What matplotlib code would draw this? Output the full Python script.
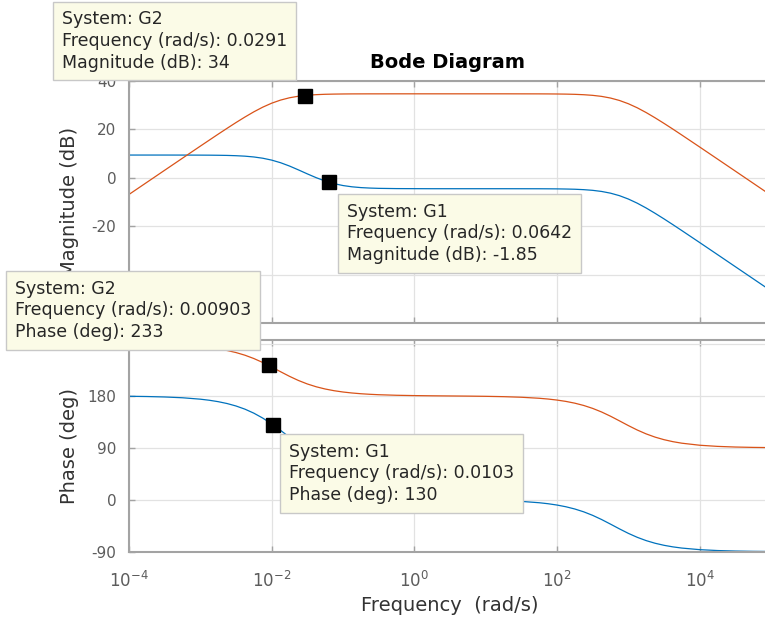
import numpy as np
import matplotlib
matplotlib.use("Agg")
import matplotlib.pyplot as plt
from matplotlib.ticker import FixedLocator, NullLocator, LogFormatterSciNotation, FuncFormatter

# --------------------------------------------
# Frequency response samples (log10 of rad/s)
# finer steps around the corners
# --------------------------------------------

log_w = [-4.0, -3.75, -3.5, -3.25, -3.0,
         -2.875, -2.75, -2.625, -2.5, -2.375, -2.25, -2.125, -2.0, -1.875, -1.75,
         -1.625, -1.5, -1.375, -1.25, -1.125, -1.0, -0.875, -0.75, -0.625, -0.5,
         -0.25, 0.0, 0.25, 0.5, 0.75, 1.0, 1.25, 1.5,
         1.75, 1.875, 2.0, 2.125, 2.25, 2.375, 2.5, 2.625, 2.75,
         2.875, 3.0, 3.125, 3.25, 3.375, 3.5, 3.625, 3.75,
         4.0, 4.25, 4.5, 4.75, 5.0]

g1_mag = [9.40, 9.40, 9.40, 9.39, 9.37,
          9.35, 9.31, 9.25, 9.13, 8.94, 8.61, 8.09, 7.31, 6.23, 4.86,
          3.27, 1.62, 0.04, -1.33, -2.42, -3.20, -3.72, -4.05, -4.24, -4.36,
          -4.46, -4.49, -4.51, -4.51, -4.51, -4.51, -4.51, -4.52,
          -4.53, -4.55, -4.58, -4.64, -4.73, -4.90, -5.18, -5.64, -6.35,
          -7.38, -8.77, -10.49, -12.48, -14.67, -16.98, -19.37, -21.81,
          -26.75, -31.73, -36.73, -41.72, -46.72]

g1_phase = [179.44, 179.01, 178.23, 176.86, 174.41,
            172.56, 170.10, 166.86, 162.61, 157.12, 150.16, 141.62, 131.58, 120.36, 108.43,
            96.17, 83.85, 71.60, 59.67, 48.45, 38.40, 29.85, 22.89, 17.38, 13.15,
            7.44, 4.10, 2.20, 1.04, 0.23, -0.50, -1.40, -2.79,
            -5.11, -6.84, -9.12, -12.11, -15.98, -20.91, -27.01, -34.21, -42.20,
            -50.40, -58.20, -65.07, -70.78, -75.35, -78.91, -81.64, -83.71,
            -86.45, -88.00, -88.88, -89.37, -89.64]

g2_mag = [-6.88, -1.88, 3.12, 8.11, 13.09,
          15.56, 18.03, 20.45, 22.83, 25.11, 27.26, 29.19, 30.83, 32.12, 33.07,
          33.71, 34.12, 34.36, 34.51, 34.59, 34.64, 34.67, 34.68, 34.69, 34.69,
          34.70, 34.70, 34.70, 34.70, 34.70, 34.70, 34.70, 34.69,
          34.68, 34.66, 34.63, 34.58, 34.49, 34.33, 34.07, 33.64, 32.96,
          31.96, 30.61, 28.93, 26.96, 24.79, 22.49, 20.11, 17.67,
          12.73, 7.75, 2.76, -2.24, -7.24]

g2_phase = [269.52, 269.15, 268.49, 267.32, 265.24,
            263.66, 261.57, 258.82, 255.24, 250.64, 244.89, 238.00, 230.19, 221.99, 214.01,
            206.84, 200.78, 195.89, 192.05, 189.09, 186.84, 185.14, 183.85, 182.88, 182.15,
            181.18, 180.62, 180.26, 179.99, 179.72, 179.35, 178.77, 177.76,
            175.99, 174.65, 172.87, 170.54, 167.47, 163.49, 158.43, 152.21, 144.90,
            136.85, 128.66, 120.96, 114.22, 108.64, 104.20, 100.74, 98.10,
            94.57, 92.58, 91.45, 90.82, 90.46]

# data tips: system, frequency (rad/s), value
mag_tips = [("G2", 0.0291, 34), ("G1", 0.0642, -1.85)]
phase_tips = [("G2", 0.00903, 233), ("G1", 0.0103, 130)]

freq = 10.0 ** np.array(log_w)

# --------------------------------------------
# Style
# --------------------------------------------

W, H = 765, 622

plt.rcParams["font.family"] = ["DejaVu Sans"]
plt.rcParams["mathtext.fontset"] = "dejavusans"
plt.rcParams["mathtext.default"] = "regular"
plt.rcParams["axes.unicode_minus"] = False

blue = "#0072BD"
orange = "#D95319"
axis_gray = "#a3a3a3"
tick_gray = "#5c5c5c"
label_gray = "#333333"


def fig_xy(px, py):
    return px / W, 1 - py / H


def ytick_label(hidden):
    # tick labels that sit under a data tip are left blank
    return FuncFormatter(lambda v, pos: "" if v in hidden else f"{v:g}")


fig = plt.figure(figsize=(W / 100, H / 100), dpi=100)

ax_mag = fig.add_axes([129 / W, 1 - 323 / H, 642 / W, (323 - 81) / H])
ax_ph = fig.add_axes([129 / W, 1 - 551.7 / H, 642 / W, (551.7 - 340) / H])

for ax in (ax_mag, ax_ph):
    ax.set_xscale("log")
    ax.set_xlim(1e-4, 1e5)
    ax.xaxis.set_major_locator(FixedLocator([1e-4, 1e-2, 1e0, 1e2, 1e4]))
    ax.xaxis.set_minor_locator(NullLocator())
    ax.xaxis.set_major_formatter(LogFormatterSciNotation())
    ax.grid(True, color="#e2e2e2", linewidth=0.9)
    ax.set_axisbelow(True)
    for sp in ax.spines.values():
        sp.set_color(axis_gray)
        sp.set_linewidth(1.5)
    ax.tick_params(direction="in", length=4, width=1, color=axis_gray,
                   labelcolor=tick_gray, top=True, right=True)
    ax.tick_params(axis="y", labelsize=11, pad=9)
    ax.tick_params(axis="x", labelsize=12, pad=14)

# --------------------------------------------
# Magnitude
# --------------------------------------------

ax_mag.plot(freq, g1_mag, color=blue, linewidth=0.9)
ax_mag.plot(freq, g2_mag, color=orange, linewidth=0.9)

ax_mag.set_ylim(-60, 40)
ax_mag.set_yticks([-60, -40, -20, 0, 20, 40])
ax_mag.yaxis.set_major_formatter(ytick_label({-60, -40}))
ax_mag.tick_params(labelbottom=False)
ax_mag.set_ylabel("Magnitude (dB)", fontsize=14, color=label_gray)
ax_mag.yaxis.set_label_coords(-0.078, 0.5)

# --------------------------------------------
# Phase
# --------------------------------------------

ax_ph.plot(freq, g1_phase, color=blue, linewidth=0.9)
ax_ph.plot(freq, g2_phase, color=orange, linewidth=0.9)

ax_ph.set_ylim(-90, 277)
ax_ph.set_yticks([-90, 0, 90, 180, 270])
ax_ph.yaxis.set_major_formatter(ytick_label({270}))
ax_ph.set_ylabel("Phase (deg)", fontsize=14, color=label_gray)
ax_ph.yaxis.set_label_coords(-0.078, 0.5)
ax_ph.set_xlabel("Frequency  (rad/s)", fontsize=14, color=label_gray)
ax_ph.xaxis.set_label_coords(0.5, -0.209)

fig.text(*fig_xy(448, 68), "Bode Diagram", fontsize=14, fontweight="bold",
         ha="center", va="baseline", color="black")

# --------------------------------------------
# Data tips
# --------------------------------------------

mag_tip_pos = [(62, 10.5), (347, 203)]
phase_tip_pos = [(15, 280), (289, 443)]

tip_box = dict(boxstyle="square,pad=0.5", facecolor="#fbfbe7",
               edgecolor="#c8c8c8", linewidth=1)

for (name, f, val), pos in zip(mag_tips, mag_tip_pos):
    ax_mag.plot(f, val, "s", color="black", markersize=10, zorder=5, clip_on=False)
    fig.text(*fig_xy(*pos),
             f"System: {name}\nFrequency (rad/s): {f:g}\nMagnitude (dB): {val:g}",
             fontsize=12.5, color="#262626", ha="left", va="top",
             linespacing=1.25, bbox=tip_box, zorder=10)

for (name, f, val), pos in zip(phase_tips, phase_tip_pos):
    ax_ph.plot(f, val, "s", color="black", markersize=10, zorder=5, clip_on=False)
    fig.text(*fig_xy(*pos),
             f"System: {name}\nFrequency (rad/s): {f:g}\nPhase (deg): {val:g}",
             fontsize=12.5, color="#262626", ha="left", va="top",
             linespacing=1.25, bbox=tip_box, zorder=10)

plt.savefig("out.png", dpi=100)
plt.close()
